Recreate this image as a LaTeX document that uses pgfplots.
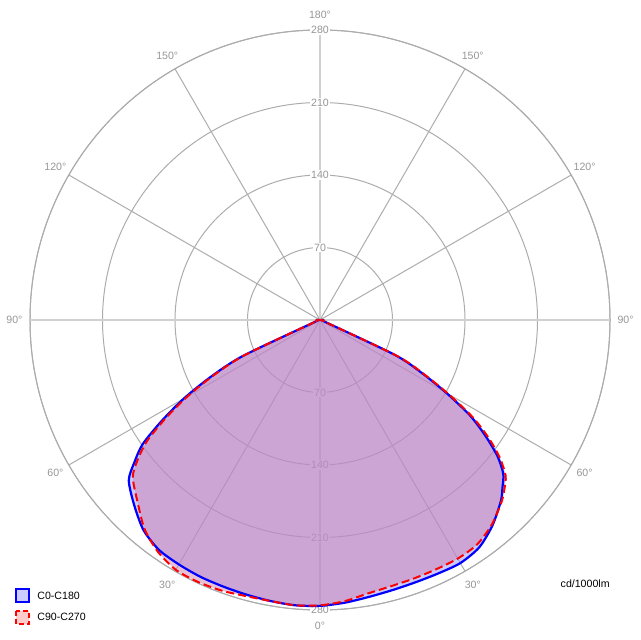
\documentclass[border=0pt]{standalone}
\usepackage{fontspec}
\setmainfont{Liberation Sans}
\usepackage{pgfplots}
\usepackage{pgfplotstable}
\pgfplotsset{compat=1.18}
\usepgfplotslibrary{polar}

\definecolor{ringgray}{RGB}{172,172,172}
\definecolor{axisgray}{RGB}{208,208,208}
\definecolor{labgray}{RGB}{150,150,150}
\definecolor{fillA}{RGB}{150,150,255}
\definecolor{fillB}{RGB}{207,130,171}
\definecolor{legA}{RGB}{204,204,255}
\definecolor{legB}{RGB}{255,204,204}
\newcommand{\lab}{\fontsize{5.3}{6}\selectfont}
\tikzset{rlab/.style={fill=white, inner sep=0.6pt, text=labgray, font=\lab},
         alab/.style={text=labgray, font=\lab}}

% polar angle (0 = right, counter-clockwise) and cd/1000lm
\pgfplotstableread{
a r
0 3
-5 3
-10 4
-15 4
-20 5
-25 80
-27.5 111
-30 141
-32.5 172
-35 195
-37.5 216
-40 231
-42.5 239
-45 247
-50 259
-55 268
-60 271
-65 270
-70 269.5
-75 270
-80 271.5
-85 274
-90 276
-95 276.5
-100 275.5
-105 274.5
-110 273.8
-115 273.5
-120 272.5
-125 271
-130 265
-135 253.5
-140 241
-142.5 226
-145 209
-147.5 181
-150 152
-152.5 119
-155 82
-160 5
-165 4
-170 4
-175 3
-180 3
}\cA

\pgfplotstableread{
a r
0 3
-5 3
-10 4
-15 4
-20 5
-25 82
-27.5 113
-30 143.5
-32.5 175
-35 199
-37.5 219
-40 234
-42.5 241.5
-45 248
-50 258
-55 264.5
-60 266
-65 265.5
-70 265.5
-75 266
-80 268
-85 272.5
-90 275.5
-95 276.5
-100 275.5
-105 276
-110 278
-115 279
-120 278.5
-125 273
-130 263.5
-135 249
-140 236
-142.5 222
-145 204
-147.5 177
-150 148
-152.5 116
-155 80
-160 5
-165 4
-170 4
-175 3
-180 3
}\cB

\begin{document}
\begin{tikzpicture}
\begin{polaraxis}[
  scale only axis, width=290pt, height=290pt,
  ymin=0, ymax=280,
  xtick={0,30,...,330}, ytick={70,140,210,280},
  xticklabels={}, yticklabels={},
  grid=major,
  major grid style={draw=ringgray, line width=0.5pt},
  axis line style={draw=ringgray, line width=0.5pt},
  major tick length=0pt,
  clip=false,
]
\draw[axisgray, line width=1pt] (axis cs:0,280) -- (axis cs:180,280);
\draw[axisgray, line width=1pt] (axis cs:90,280) -- (axis cs:270,280);

\node[rlab] at (axis cs:90,70) {70};
\node[rlab] at (axis cs:90,140) {140};
\node[rlab] at (axis cs:90,210) {210};
\node[rlab] at (axis cs:90,280) {280};
\node[rlab] at (axis cs:270,70) {70};
\node[rlab] at (axis cs:270,140) {140};
\node[rlab] at (axis cs:270,210) {210};
\node[rlab] at (axis cs:270,280) {280};

\node[alab] at (axis cs:90,295) {180°};
\node[alab] at (axis cs:60,295) {150°};
\node[alab] at (axis cs:120,295) {150°};
\node[alab] at (axis cs:30,295) {120°};
\node[alab] at (axis cs:150,295) {120°};
\node[alab] at (axis cs:0,295) {90°};
\node[alab] at (axis cs:180,295) {90°};
\node[alab] at (axis cs:-30,295) {60°};
\node[alab] at (axis cs:210,295) {60°};
\node[alab] at (axis cs:-60,295) {30°};
\node[alab] at (axis cs:240,295) {30°};
\node[alab] at (axis cs:-90,295) {0°};

\addplot[draw=none, fill=fillA, fill opacity=0.5, smooth, tension=0.45] table[x=a, y=r] {\cA} --cycle;
\addplot[draw=none, fill=fillB, fill opacity=0.5, smooth, tension=0.45] table[x=a, y=r] {\cB} --cycle;
\addplot[blue, line width=1.1pt, line join=round, smooth, tension=0.45] table[x=a, y=r] {\cA} --cycle;
\addplot[red, line width=1pt, dash pattern=on 4pt off 2pt, line join=round, smooth, tension=0.45] table[x=a, y=r] {\cB} --cycle;

\coordinate (c) at (axis cs:0,0);
\end{polaraxis}

\pgfresetboundingbox
\begin{scope}[shift={(c)}, x=0.5pt, y=-0.5pt]
\path (-320,-320) rectangle (320,320);
\draw[blue, line width=1pt, fill=legA] (-304,269) rectangle (-291,282);
\draw[red, line width=1pt, dash pattern=on 2.5pt off 1.5pt, fill=legB] (-304,291) rectangle (-291,304);
\node[anchor=west, font=\lab, inner sep=0pt] at (-283,276) {C0-C180};
\node[anchor=west, font=\lab, inner sep=0pt] at (-283,297) {C90-C270};
\node[anchor=east, font=\lab, inner sep=0pt] at (290,264) {cd/1000lm};
\end{scope}
\end{tikzpicture}
\end{document}
